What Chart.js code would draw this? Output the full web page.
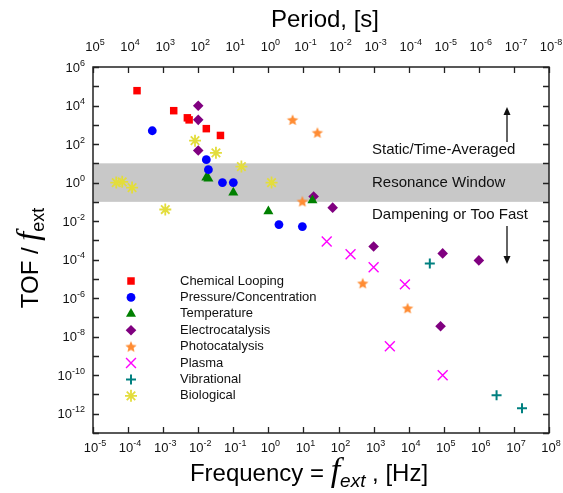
<!DOCTYPE html>
<html><head><meta charset="utf-8">
<script src="https://cdn.jsdelivr.net/npm/chart.js@4/dist/chart.umd.min.js"></script>
<style>html,body{margin:0;padding:0;background:#fff}#wrap{width:563px;height:493px}</style>
</head><body><div id="wrap"><canvas id="c" width="563" height="493"></canvas></div>
<script>
// ---- data (frequency in Hz, TOF / f_ext) ----
const seriesNames = ['Chemical Looping','Pressure/Concentration','Temperature','Electrocatalysis','Photocatalysis','Plasma','Vibrational','Biological'];

const chemLoopFreq = [1.8e-4, 2.0e-3, 4.9e-3, 5.5e-3, 1.7e-2, 4.3e-2];
const chemLoopTOF  = [5.9e4, 5.4e3, 2.3e3, 1.8e3, 6.3e2, 2.8e2];

const pressureFreq = [4.9e-4, 1.7e-2, 1.95e-2, 4.9e-2, 0.1, 2.0, 9.3];
const pressureTOF  = [490, 15.5, 4.7, 1.0, 1.0, 6.6e-3, 5.2e-3];

const temperatureFreq = [1.7e-2, 1.95e-2, 0.1, 1.0, 18];
const temperatureTOF  = [1.8, 1.6, 0.3, 0.032, 0.12];

const electroFreq = [0.01, 0.01, 0.01, 19.5, 68, 1000, 9.3e4, 1.0e6, 8.1e4];
const electroTOF  = [9.8e3, 1.8e3, 46, 0.19, 0.05, 4.8e-4, 2.1e-4, 9.1e-5, 3.5e-8];

const photoFreq = [4.9, 25, 9.3, 490, 9.3e3];
const photoTOF  = [1.8e3, 390, 0.105, 5.9e-6, 3.0e-7];

const plasmaFreq = [46, 220, 1000, 7.8e3, 2.9e3, 9.3e4];
const plasmaTOF  = [8.7e-4, 1.9e-4, 4.0e-5, 5.2e-6, 3.2e-9, 1.0e-10];

const vibFreq = [4.0e4, 3.2e6, 1.7e7];
const vibTOF  = [6.3e-5, 9.1e-12, 1.9e-12];

const bioFreq = [4.6e-5, 6.8e-5, 1.3e-4, 1.15e-3, 8.1e-3, 3.2e-2, 0.17, 1.23];
const bioTOF  = [1.0, 1.1, 0.55, 0.04, 150, 35, 6.8, 1.0];

// ---- axes ----
const xTickExps = [-5,-4,-3,-2,-1,0,1,2,3,4,5,6,7,8];
const periodTickExps = [5,4,3,2,1,0,-1,-2,-3,-4,-5,-6,-7,-8];
const yTickExps = [-13,-12,-11,-10,-9,-8,-7,-6,-5,-4,-3,-2,-1,0,1,2,3,4,5,6];
const yLabelExps = [6,4,2,0,-2,-4,-6,-8,-10,-12];
const resonanceLow = 0.1, resonanceHigh = 10;
const regionTexts = ['Static/Time-Averaged','Resonance Window','Dampening or Too Fast'];

const SANS = '"Liberation Sans", Arial, sans-serif';
const SERIF = '"Liberation Serif", "Times New Roman", serif';

function pts(xs, ys){ return xs.map((x,i)=>({x:x, y:ys[i]})); }

// filled 5-point star marker
function makeStar(color, R){
  const c = document.createElement('canvas');
  const s = Math.ceil(R*2+2); c.width = s; c.height = s;
  const g = c.getContext('2d');
  const r = R*0.45;
  g.beginPath();
  for (let i=0;i<10;i++){
    const a = -Math.PI/2 + i*Math.PI/5;
    const rr = i%2===0 ? R : r;
    const px = s/2 + Math.cos(a)*rr, py = s/2 + Math.sin(a)*rr + 0.5;
    if (i===0) g.moveTo(px,py); else g.lineTo(px,py);
  }
  g.closePath(); g.fillStyle = color; g.fill();
  return c;
}
const starImg = makeStar('#ff8c33', 6);

const datasets = [
  {label: seriesNames[0], data: pts(chemLoopFreq, chemLoopTOF), pointStyle:'rect', pointRadius:5.3, backgroundColor:'#ff0000', borderColor:'#ff0000', borderWidth:0},
  {label: seriesNames[1], data: pts(pressureFreq, pressureTOF), pointStyle:'circle', pointRadius:4.4, backgroundColor:'#0000ff', borderColor:'#0000ff', borderWidth:0},
  {label: seriesNames[2], data: pts(temperatureFreq, temperatureTOF), pointStyle:'triangle', pointRadius:5.8, backgroundColor:'#008000', borderColor:'#008000', borderWidth:0},
  {label: seriesNames[3], data: pts(electroFreq, electroTOF), pointStyle:'rectRot', pointRadius:5.3, backgroundColor:'#800080', borderColor:'#800080', borderWidth:0},
  {label: seriesNames[4], data: pts(photoFreq, photoTOF), pointStyle: starImg, pointRadius:6, backgroundColor:'#ff8c33', borderColor:'#ff8c33', borderWidth:0},
  {label: seriesNames[5], data: pts(plasmaFreq, plasmaTOF), pointStyle:'crossRot', pointRadius:7, backgroundColor:'#ff00ff', borderColor:'#ff00ff', borderWidth:1.4},
  {label: seriesNames[6], data: pts(vibFreq, vibTOF), pointStyle:'cross', pointRadius:5, backgroundColor:'#008080', borderColor:'#008080', borderWidth:2},
  {label: seriesNames[7], data: pts(bioFreq, bioTOF), pointStyle:'star', pointRadius:6, backgroundColor:'#e3dd3c', borderColor:'#e3dd3c', borderWidth:1.8}
];

function drawPow(ctx, exp, x, y, align, baseSize, supSize){
  baseSize = baseSize || 13; supSize = supSize || 9;
  const bf = baseSize + 'px ' + SANS, sf = supSize + 'px ' + SANS;
  ctx.font = bf; const bw = ctx.measureText('10').width;
  ctx.font = sf; const es = String(exp); const ew = ctx.measureText(es).width;
  const tot = bw + ew;
  let sx = x;
  if (align === 'center') sx = x - tot/2; else if (align === 'right') sx = x - tot;
  ctx.textAlign = 'left'; ctx.textBaseline = 'alphabetic';
  ctx.font = bf; ctx.fillText('10', sx, y);
  ctx.font = sf; ctx.fillText(es, sx + bw, y - 6);
}

function drawParts(ctx, parts, cx, baseY){
  let tot = 0;
  parts.forEach(p => { ctx.font = p[1]; tot += ctx.measureText(p[0]).width; });
  let x = cx - tot/2;
  ctx.textAlign = 'left'; ctx.textBaseline = 'alphabetic';
  parts.forEach(p => { ctx.font = p[1]; ctx.fillText(p[0], x, baseY + (p[2]||0)); x += ctx.measureText(p[0]).width; });
}

function drawArrow(ctx, x, y1, y2){
  const dir = y2 < y1 ? -1 : 1;
  ctx.beginPath(); ctx.moveTo(x, y1); ctx.lineTo(x, y2 - dir*6); ctx.stroke();
  ctx.beginPath(); ctx.moveTo(x, y2); ctx.lineTo(x-3.5, y2 - dir*8); ctx.lineTo(x+3.5, y2 - dir*8); ctx.closePath(); ctx.fill();
}

const axesPlugin = {
  id: 'axesPlugin',
  beforeDatasetsDraw(chart){
    const {ctx, chartArea:a, scales:{x, y}} = chart;
    const t = y.getPixelForValue(resonanceHigh), b = y.getPixelForValue(resonanceLow);
    ctx.save(); ctx.fillStyle = '#c8c8c8'; ctx.fillRect(a.left, t, a.right - a.left, b - t); ctx.restore();
  },
  afterDatasetsDraw(chart){
    const {ctx, chartArea:a, scales:{x, y}} = chart;
    ctx.save();
    // region texts and arrows
    ctx.font = '15px ' + SANS; ctx.textAlign = 'left'; ctx.textBaseline = 'middle'; ctx.fillStyle = '#111';
    const tx = 372;
    ctx.fillText(regionTexts[0], tx, y.getPixelForValue(resonanceHigh) - 13);
    ctx.fillText(regionTexts[1], tx, y.getPixelForValue(1));
    ctx.fillText(regionTexts[2], tx, y.getPixelForValue(resonanceLow) + 13);
    ctx.lineWidth = 1.3; ctx.strokeStyle = '#111'; ctx.fillStyle = '#111';
    drawArrow(ctx, 507, 142, 107);
    drawArrow(ctx, 507, 226, 264);
    // frame
    ctx.strokeStyle = '#222'; ctx.lineWidth = 1.5;
    ctx.strokeRect(a.left, a.top, a.right - a.left, a.bottom - a.top);
    // ticks
    ctx.lineWidth = 1.3;
    const TL = 6;
    xTickExps.forEach(e => {
      const px = Math.round(x.getPixelForValue(Math.pow(10, e))) + 0.5;
      ctx.beginPath(); ctx.moveTo(px, a.bottom); ctx.lineTo(px, a.bottom - TL);
      ctx.moveTo(px, a.top); ctx.lineTo(px, a.top + TL); ctx.stroke();
    });
    yTickExps.forEach(e => {
      const py = Math.round(y.getPixelForValue(Math.pow(10, e))) + 0.5;
      ctx.beginPath(); ctx.moveTo(a.left, py); ctx.lineTo(a.left + TL, py);
      ctx.moveTo(a.right, py); ctx.lineTo(a.right - TL, py); ctx.stroke();
    });
    // tick labels
    ctx.fillStyle = '#111';
    xTickExps.forEach(e => drawPow(ctx, e, x.getPixelForValue(Math.pow(10, e)) + 2, 452, 'center'));
    periodTickExps.forEach((e, i) => drawPow(ctx, e, x.getPixelForValue(Math.pow(10, xTickExps[i])) + 2, 51, 'center'));
    yLabelExps.forEach(e => drawPow(ctx, e, a.left - 8, y.getPixelForValue(Math.pow(10, e)) + 4.5, 'right'));
    // axis titles
    ctx.fillStyle = '#000';
    drawParts(ctx, [['Period, [s]', '24px ' + SANS, 0]], 325, 27);
    drawParts(ctx, [
      ['Frequency = ', '24px ' + SANS, 0],
      ['f', 'italic 34px ' + SERIF, 0],
      ['ext', 'italic 19px ' + SANS, 6],
      [' , [Hz]', '24px ' + SANS, 0]
    ], 309, 481);
    ctx.save();
    ctx.translate(38, 258); ctx.rotate(-Math.PI/2);
    drawParts(ctx, [
      ['TOF / ', '24px ' + SANS, 0],
      ['f', 'italic 32px ' + SERIF, 0],
      ['ext', '18px ' + SANS, 6]
    ], 0, 0);
    ctx.restore();
    // legend
    const lx = 131, ltx = 180, ly0 = 281, ldy = 16.4;
    chart.data.datasets.forEach((ds, i) => {
      const yy = ly0 + i*ldy;
      ctx.fillStyle = ds.backgroundColor; ctx.strokeStyle = ds.borderColor; ctx.lineWidth = ds.borderWidth;
      Chart.helpers.drawPoint(ctx, {pointStyle: ds.pointStyle, rotation: 0, radius: ds.pointRadius, borderWidth: ds.borderWidth}, lx, yy);
      ctx.fillStyle = '#111'; ctx.font = '13px ' + SANS; ctx.textAlign = 'left'; ctx.textBaseline = 'middle';
      ctx.fillText(ds.label, ltx, yy);
    });
    ctx.restore();
  }
};

new Chart(document.getElementById('c'), {
  type: 'scatter',
  data: { datasets: datasets },
  options: {
    responsive: false, animation: false, devicePixelRatio: 1,
    layout: { padding: { left: 93, top: 67, right: 14, bottom: 60 } },
    scales: {
      x: { type: 'logarithmic', min: 1e-5, max: 1e8, display: false },
      y: { type: 'logarithmic', min: 1e-13, max: 1e6, display: false }
    },
    plugins: { legend: { display: false }, tooltip: { enabled: false } },
    elements: { point: { hoverRadius: 6 } }
  },
  plugins: [axesPlugin]
});
</script>
</body></html>
